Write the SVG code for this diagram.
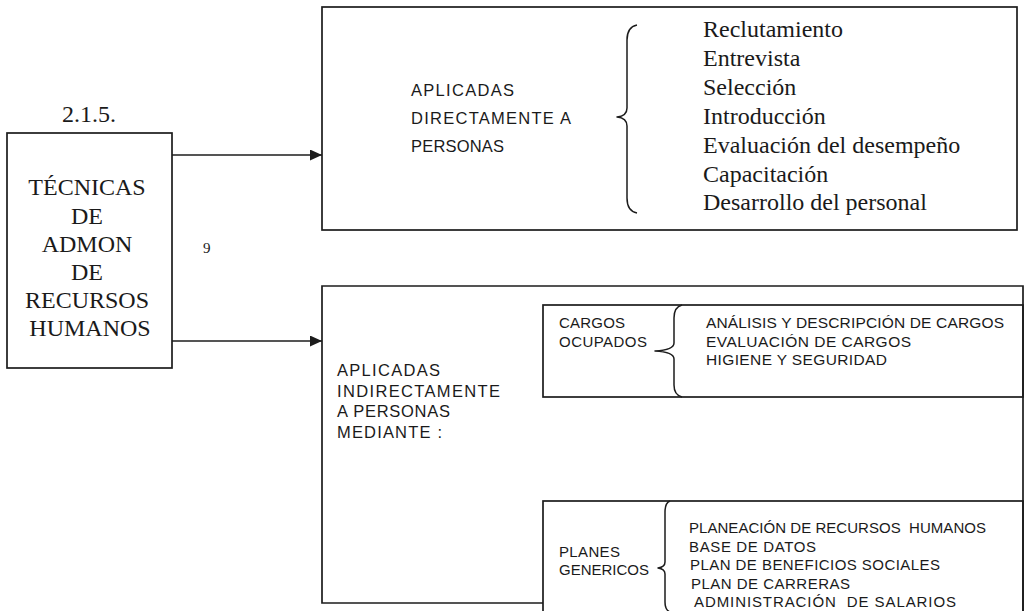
<svg xmlns="http://www.w3.org/2000/svg" width="1027" height="611" viewBox="0 0 1027 611">
  <style>
    .box { fill: none; stroke: #1c1c1c; stroke-width: 1.7; }
    .brace { fill: none; stroke: #1c1c1c; stroke-width: 1.5; stroke-linejoin: round; }
    .link { fill: none; stroke: #1c1c1c; stroke-width: 1.6; }
    .serif { font-family: "Liberation Serif", "Times New Roman", serif; fill: #1a1a1a; }
    .sans { font-family: "Liberation Sans", Arial, sans-serif; fill: #1a1a1a; }
    .big { font-size: 24px; }
    .head { font-size: 16.5px; }
    .mid { font-size: 15.5px; }
    .small { font-size: 15px; }
  </style>
  <defs>
    <marker id="arrow" markerUnits="userSpaceOnUse" markerWidth="13" markerHeight="11" refX="12" refY="5.5" orient="auto">
      <path d="M0,0 L12,5.5 L0,11 z" fill="#1c1c1c"/>
    </marker>
  </defs>

  <rect width="1027" height="611" fill="#ffffff"/>

  <!-- section number and page mark -->
  <text class="serif big" x="62" y="122">2.1.5.</text>
  <text class="serif" font-size="15" x="203" y="253">9</text>

  <!-- root node -->
  <g id="tecnicas">
    <rect class="box" x="7" y="133" width="165" height="235"/>
    <text class="serif big" text-anchor="middle">
      <tspan x="90" y="195">TÉCNICAS</tspan>
      <tspan x="90" y="224">DE</tspan>
      <tspan x="90" y="252">ADMON</tspan>
      <tspan x="90" y="280">DE</tspan>
      <tspan x="90" y="308">RECURSOS</tspan>
      <tspan x="90" y="336">HUMANOS</tspan>
    </text>
  </g>

  <!-- connectors -->
  <g id="connectors">
    <line class="link" x1="172" y1="155" x2="322" y2="155" marker-end="url(#arrow)"/>
    <line class="link" x1="172" y1="341" x2="322" y2="341" marker-end="url(#arrow)"/>
  </g>

  <!-- techniques applied directly to people -->
  <g id="directas">
    <rect class="box" x="322" y="7" width="695" height="223"/>
    <text class="sans head" x="411" y="96" textLength="103">APLICADAS</text>
    <text class="sans head" x="411" y="124" textLength="160">DIRECTAMENTE A</text>
    <text class="sans head" x="411" y="152" textLength="93">PERSONAS</text>
    <path class="brace" d="M637,25 Q627,27 627,40 L627,108 Q627,116 617,117 Q627,118 627,126 L627,198 Q627,211 637,213"/>
    <text class="serif big">
      <tspan x="703" y="37">Reclutamiento</tspan>
      <tspan x="703" y="66">Entrevista</tspan>
      <tspan x="703" y="95">Selección</tspan>
      <tspan x="703" y="124">Introducción</tspan>
      <tspan x="703" y="153">Evaluación del desempeño</tspan>
      <tspan x="703" y="182">Capacitación</tspan>
      <tspan x="703" y="210">Desarrollo del personal</tspan>
    </text>
  </g>

  <!-- techniques applied indirectly to people -->
  <g id="indirectas">
    <path class="box" d="M543,603 H322 V286 H1023 V611"/>
    <text class="sans head" x="337" y="376" textLength="103">APLICADAS</text>
    <text class="sans head" x="337" y="397" textLength="163">INDIRECTAMENTE</text>
    <text class="sans head" x="337" y="417" textLength="113">A PERSONAS</text>
    <text class="sans head" x="337" y="438" textLength="105">MEDIANTE :</text>
  </g>

  <g id="cargos">
    <rect class="box" x="543" y="305" width="480" height="92"/>
    <text class="sans small" x="559" y="328" textLength="66">CARGOS</text>
    <text class="sans small" x="559" y="347" textLength="88">OCUPADOS</text>
    <path class="brace" d="M682,305 Q674,307 674,318 L674,343 Q674,350 655,351 Q674,352 674,359 L674,385 Q674,395 682,397"/>
    <text class="sans mid" x="706" y="328" textLength="298">ANÁLISIS Y DESCRIPCIÓN DE CARGOS</text>
    <text class="sans mid" x="706" y="347" textLength="205">EVALUACIÓN DE CARGOS</text>
    <text class="sans mid" x="706" y="365" textLength="181">HIGIENE Y SEGURIDAD</text>
  </g>

  <g id="planes">
    <rect class="box" x="543" y="501" width="480" height="130"/>
    <text class="sans small" x="559" y="557" textLength="61">PLANES</text>
    <text class="sans small" x="559" y="575" textLength="90">GENERICOS</text>
    <path class="brace" d="M670,501 Q665,503 665,512 L665,562 Q665,567 658,568 Q665,569 665,574 L665,602 Q665,610 670,612"/>
    <text class="sans small" x="689" y="533" textLength="297" xml:space="preserve">PLANEACIÓN DE RECURSOS  HUMANOS</text>
    <text class="sans small" x="689" y="552" textLength="127">BASE DE DATOS</text>
    <text class="sans small" x="690" y="570" textLength="250">PLAN DE BENEFICIOS SOCIALES</text>
    <text class="sans small" x="691" y="589" textLength="159">PLAN DE CARRERAS</text>
    <text class="sans small" x="694" y="607" textLength="262" xml:space="preserve">ADMINISTRACIÓN  DE SALARIOS</text>
  </g>
</svg>
